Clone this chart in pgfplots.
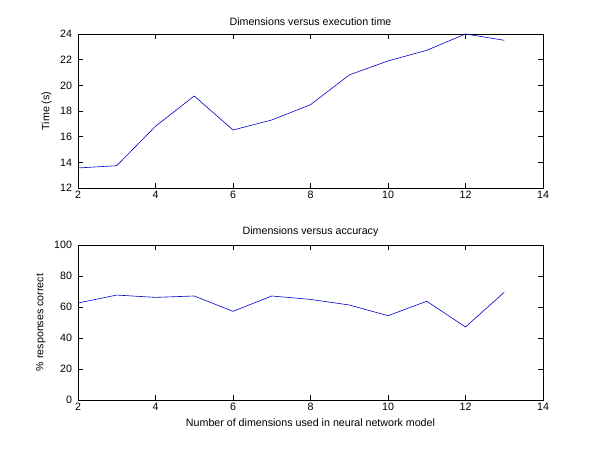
\documentclass[border=0pt]{standalone}
\usepackage{fontspec}
\setmainfont{Liberation Sans}
\usepackage{pgfplots}
\pgfplotsset{compat=1.18}
\begin{document}
\begin{tikzpicture}[x=1pt,y=1pt]
\path[use as bounding box, fill=white] (0,0) rectangle (450,337.5);
\pgfplotsset{
  mstyle/.style={
    scale only axis, anchor=south west, width=348.75pt,
    xmin=2, xmax=14, xtick={2,4,...,14},
    tick align=inside, major tick length=3.5pt,
    axis line style={black, line width=0.4pt},
    every tick/.style={black, line width=0.4pt},
    font=\fontsize{8}{9.5}\selectfont,
    ticklabel style={font=\fontsize{8}{9.5}\selectfont},
    /pgf/number format/assume math mode=true,
    title style={font=\fontsize{8}{9.5}\selectfont, yshift=-3pt},
    xticklabel style={yshift=1pt},
    yticklabel style={xshift=-1pt},
  }
}
\begin{axis}[mstyle, at={(58.5pt,196.5pt)}, height=115.5pt,
  ymin=12, ymax=24, ytick={12,14,...,24},
  title={Dimensions versus execution time},
  ylabel={Time (s)}, ylabel style={yshift=-0.5pt}]
\addplot[blue!80!black, line width=0.45pt, mark=none] coordinates {
(2,13.56) (3,13.74) (4,16.81) (5,19.17) (6,16.52) (7,17.30)
(8,18.49) (9,20.81) (10,21.90) (11,22.73) (12,24.0) (13,23.51)};
\end{axis}
\begin{axis}[mstyle, at={(58.5pt,37.5pt)}, height=116.25pt,
  ymin=0, ymax=100, ytick={0,20,...,100},
  title={Dimensions versus accuracy},
  ylabel={\% responses correct}, ylabel style={yshift=-0.5pt},
  xlabel={Number of dimensions used in neural network model}, xlabel style={yshift=1pt}]
\addplot[blue!80!black, line width=0.45pt, mark=none] coordinates {
(2,62.6) (3,67.7) (4,66.2) (5,67.1) (6,57.2) (7,67.1)
(8,64.9) (9,61.3) (10,54.4) (11,63.7) (12,47.1) (13,69.5)};
\end{axis}
\end{tikzpicture}
\end{document}
